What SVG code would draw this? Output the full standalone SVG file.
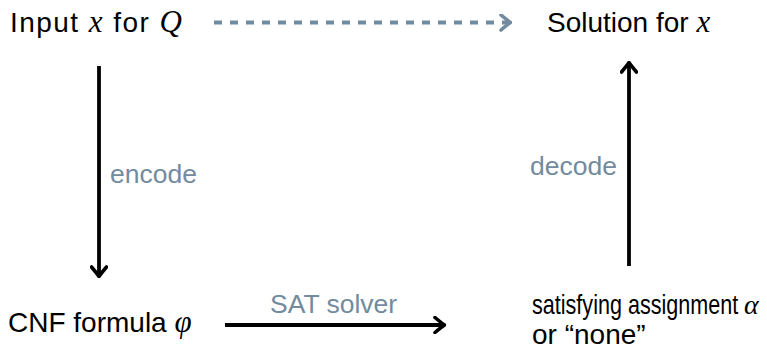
<svg xmlns="http://www.w3.org/2000/svg" width="767" height="354" viewBox="0 0 767 354">
<defs>
<style>
text{font-family:"Liberation Sans","DejaVu Sans",sans-serif;font-size:28px;fill:#000}
.m{font-family:"Liberation Serif","DejaVu Serif",serif;font-style:italic;font-size:31px}
.lbl{fill:#738b9e;font-size:26.5px}
.c{fill:none;stroke:#000;stroke-width:3.8}
.d{fill:none;stroke:#738b9e;stroke-width:4;stroke-dasharray:8 8}
</style>
<marker id="ah" viewBox="-12 -9 14 18" markerWidth="14" markerHeight="18" refX="0" refY="0" orient="auto" markerUnits="userSpaceOnUse">
<path d="M-9,-7.5 Q-2.5,-2 0.5,0 Q-2.5,2 -9,7.5" fill="none" stroke="#000" stroke-width="3.6" stroke-linecap="round" stroke-linejoin="round"/>
</marker>
<marker id="ahg" viewBox="-12 -9 14 18" markerWidth="14" markerHeight="18" refX="0" refY="0" orient="auto" markerUnits="userSpaceOnUse">
<path d="M-9,-7.5 Q-2.5,-2 0.5,0 Q-2.5,2 -9,7.5" fill="none" stroke="#738b9e" stroke-width="3.6" stroke-linecap="round" stroke-linejoin="round"/>
</marker>
</defs>
<g id="input"><text x="10" y="32" textLength="172" lengthAdjust="spacing">Input <tspan class="m">x</tspan> for <tspan class="m">Q</tspan></text></g>
<g id="solution"><text x="547" y="32">Solution for <tspan class="m">x</tspan></text></g>
<g id="cnf"><text x="8" y="332">CNF formula <tspan class="m">φ</tspan></text></g>
<g id="assignment"><text transform="translate(532,314) scale(0.83,1.04)" x="0" y="0" style="font-size:26px">satisfying assignment</text><text class="m" x="744" y="314" style="font-size:28px">α</text><text x="532" y="344">or “none”</text></g>
<g id="connectors">
<line class="d" x1="214" y1="22.5" x2="510" y2="22.5" marker-end="url(#ahg)"/>
<line class="c" x1="99" y1="66" x2="99" y2="276" marker-end="url(#ah)"/>
<line class="c" x1="629" y1="266" x2="629" y2="63" marker-end="url(#ah)"/>
<line class="c" x1="225" y1="325" x2="444" y2="325" marker-end="url(#ah)"/>
<text class="lbl" x="110" y="183">encode</text>
<text class="lbl" x="530" y="175">decode</text>
<text class="lbl" x="270" y="313">SAT solver</text>
</g>
</svg>
